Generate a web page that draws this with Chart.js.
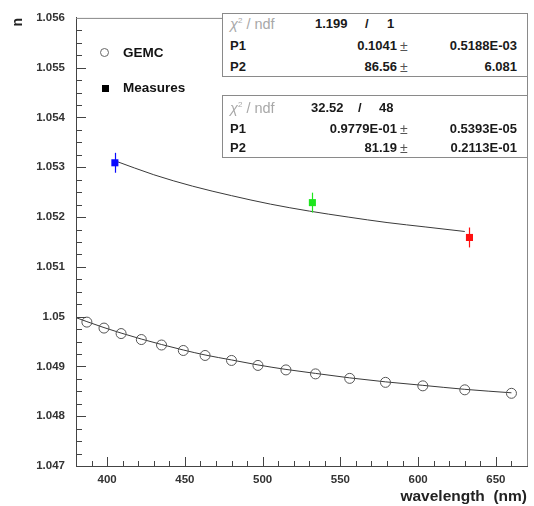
<!DOCTYPE html>
<html>
<head>
<meta charset="utf-8">
<script src="https://cdn.jsdelivr.net/npm/chart.js@4/dist/chart.umd.min.js"></script>
<style>
  html, body { margin:0; padding:0; background:#fff; }
  #wrap { position:relative; width:534px; height:506px; overflow:hidden; }
  canvas { position:absolute; left:0; top:0; }
  .box { position:absolute; box-sizing:border-box; border:1px solid #8a8a8a; background:#fff; }
  .t { position:absolute; font-family:"Liberation Sans", Arial, sans-serif; font-size:13px; font-weight:bold; color:#1a1a1a; line-height:16px; white-space:pre; }
  .chi { font-weight:normal; color:#a8a8a8; font-size:14.5px; }
  .pm { font-weight:normal; color:#555; font-size:14px; }
  .leg { position:absolute; font-family:"Liberation Sans", Arial, sans-serif; font-size:13.5px; font-weight:bold; color:#111; line-height:16px; }
</style>
</head>
<body>
<div id="wrap">
  <canvas id="c" width="534" height="506"></canvas>

  <div style="position:absolute;left:100px;top:48px;width:9px;height:9px;border:1px solid #666;border-radius:50%;box-sizing:border-box;"></div>
  <div class="leg" style="left:123px;top:45px;">GEMC</div>
  <div style="position:absolute;left:102px;top:85px;width:7px;height:7px;background:#000;"></div>
  <div class="leg" style="left:123px;top:80px;">Measures</div>

  <div class="box" style="left:222px;top:13px;width:306px;height:64px;">
    <span class="t chi" style="left:7px;top:2px;"><i>χ</i><sup style="font-size:8px;line-height:0">2</sup> / ndf</span>
    <span class="t" style="left:92px;top:2px;">1.199</span>
    <span class="t" style="left:142px;top:2px;">/</span>
    <span class="t" style="left:164px;top:2px;">1</span>
    <span class="t" style="left:7px;top:24px;">P1</span>
    <span class="t" style="right:130px;top:24px;">0.1041</span>
    <span class="t pm" style="left:177px;top:24px;">±</span>
    <span class="t" style="right:10px;top:24px;">0.5188E-03</span>
    <span class="t" style="left:7px;top:45px;">P2</span>
    <span class="t" style="right:130px;top:45px;">86.56</span>
    <span class="t pm" style="left:177px;top:45px;">±</span>
    <span class="t" style="right:10px;top:45px;">6.081</span>
  </div>

  <div class="box" style="left:222px;top:95px;width:306px;height:63px;">
    <span class="t chi" style="left:7px;top:4px;"><i>χ</i><sup style="font-size:8px;line-height:0">2</sup> / ndf</span>
    <span class="t" style="left:88px;top:4px;">32.52</span>
    <span class="t" style="left:135px;top:4px;">/</span>
    <span class="t" style="left:156px;top:4px;">48</span>
    <span class="t" style="left:7px;top:25px;">P1</span>
    <span class="t" style="right:130px;top:25px;">0.9779E-01</span>
    <span class="t pm" style="left:177px;top:25px;">±</span>
    <span class="t" style="right:10px;top:25px;">0.5393E-05</span>
    <span class="t" style="left:7px;top:44px;">P2</span>
    <span class="t" style="right:130px;top:44px;">81.19</span>
    <span class="t pm" style="left:177px;top:44px;">±</span>
    <span class="t" style="right:10px;top:44px;">0.2113E-01</span>
  </div>
</div>

<script>
// ---- data ----
const gemcWavelength = [387, 398, 409, 422, 435, 449, 463, 480, 497, 515, 534, 556, 579, 603, 630, 660];
const gemcIndex      = [1.04989, 1.04977, 1.04966, 1.04954, 1.04943, 1.04932, 1.04922, 1.04912,
                        1.04902, 1.04893, 1.04885, 1.04876, 1.04868, 1.04861, 1.04853, 1.04846];

const gemcFitWavelength = [380, 387, 398, 409, 422, 435, 449, 463, 480, 497, 515, 534, 556, 579, 603, 630, 660];
const gemcFitIndex      = [1.04998, 1.04990, 1.04978, 1.04967, 1.04955, 1.04944, 1.04933, 1.04923, 1.04913,
                           1.04903, 1.04894, 1.04886, 1.04877, 1.04869, 1.04862, 1.04854, 1.04847];

const measWavelength = [405, 532, 633];
const measIndex      = [1.05309, 1.05229, 1.05159];
const measError      = [0.0002, 0.0002, 0.0002];
const measColors     = ['#0a0aff', '#1ee61e', '#ff1010'];

const measFitWavelength = [405, 430, 455, 480, 505, 530, 555, 580, 605, 630];
const measFitIndex      = [1.05313, 1.05285, 1.05262, 1.05243, 1.05226, 1.05212, 1.05200, 1.05189, 1.05180, 1.05171];

const xTickValues = [400, 450, 500, 550, 600, 650];
const yTickValues = [1.047, 1.048, 1.049, 1.05, 1.051, 1.052, 1.053, 1.054, 1.055, 1.056];
const yTickLabels = ['1.047', '1.048', '1.049', '1.05', '1.051', '1.052', '1.053', '1.054', '1.055', '1.056'];

const xMinorStep = 10;
const yMinorStep = 0.00025;

// ---- build point lists ----
const pts = (xs, ys) => xs.map((x, i) => ({ x: x, y: ys[i] }));

const frameAndTicks = {
  id: 'frameAndTicks',
  afterDraw(chart) {
    const { ctx, chartArea: a, scales: { x, y } } = chart;
    ctx.save();
    ctx.strokeStyle = '#888';
    ctx.lineWidth = 1;
    ctx.beginPath();
    ctx.moveTo(a.left, a.top + 0.5); ctx.lineTo(a.right + 0.5, a.top + 0.5);
    ctx.lineTo(a.right + 0.5, a.bottom);
    ctx.stroke();
    ctx.strokeStyle = '#444';
    ctx.beginPath();
    for (let v = x.min; v <= x.max + 1e-9; v += xMinorStep) {
      const vv = Math.round(v);
      if (vv === x.min || vv === x.max) continue;
      const px = Math.round(x.getPixelForValue(vv)) + 0.5;
      const major = xTickValues.includes(vv);
      ctx.moveTo(px, a.bottom);
      ctx.lineTo(px, a.bottom - (major ? 9 : 5));
    }
    const n = Math.round((y.max - y.min) / yMinorStep);
    for (let i = 1; i < n; i++) {
      const v = y.min + i * yMinorStep;
      const py = Math.round(y.getPixelForValue(v)) + 0.5;
      const major = i % 4 === 0;
      ctx.moveTo(a.left, py);
      ctx.lineTo(a.left + (major ? 10 : 6), py);
    }
    ctx.stroke();
    ctx.restore();
  },
  afterDatasetsDraw(chart) {
    const { ctx, scales: { x, y } } = chart;
    ctx.save();
    ctx.lineWidth = 1.2;
    measWavelength.forEach((w, i) => {
      const px = Math.round(x.getPixelForValue(w)) + 0.5;
      ctx.strokeStyle = measColors[i];
      ctx.beginPath();
      ctx.moveTo(px, y.getPixelForValue(measIndex[i] - measError[i]));
      ctx.lineTo(px, y.getPixelForValue(measIndex[i] + measError[i]));
      ctx.stroke();
    });
    ctx.restore();
  }
};

const tickFont = { family: 'Liberation Sans', weight: 'bold', size: 11.5 };

new Chart(document.getElementById('c'), {
  type: 'scatter',
  data: {
    datasets: [
      {
        label: 'Measures',
        data: pts(measWavelength, measIndex),
        pointStyle: 'rect',
        pointRadius: 5,
        pointBackgroundColor: measColors,
        pointBorderColor: measColors,
        pointBorderWidth: 0,
        showLine: false,
        order: 0
      },
      {
        label: 'GEMC',
        data: pts(gemcWavelength, gemcIndex),
        pointStyle: 'circle',
        pointRadius: 5,
        pointBackgroundColor: 'rgba(0,0,0,0)',
        pointBorderColor: '#555',
        pointBorderWidth: 1,
        showLine: false,
        order: 1
      },
      {
        label: 'Measures fit',
        data: pts(measFitWavelength, measFitIndex),
        showLine: true,
        pointRadius: 0,
        borderColor: '#3a3a3a',
        borderWidth: 1,
        cubicInterpolationMode: 'monotone',
        order: 2
      },
      {
        label: 'GEMC fit',
        data: pts(gemcFitWavelength, gemcFitIndex),
        showLine: true,
        pointRadius: 0,
        borderColor: '#3a3a3a',
        borderWidth: 1,
        cubicInterpolationMode: 'monotone',
        order: 2
      }
    ]
  },
  options: {
    responsive: false,
    animation: false,
    devicePixelRatio: 1,
    layout: { padding: { left: 0, top: 13, right: 7, bottom: 0 } },
    plugins: { legend: { display: false }, tooltip: { enabled: false } },
    scales: {
      x: {
        type: 'linear',
        min: 380,
        max: 670,
        afterBuildTicks: s => { s.ticks = xTickValues.map(v => ({ value: v })); },
        afterFit: s => { s.height = 40; },
        ticks: { font: tickFont, color: '#333', padding: 7, maxRotation: 0, callback: v => String(v) },
        grid: { display: false, drawTicks: false },
        border: { display: true, color: '#444', width: 1 },
        title: {
          display: true, text: 'wavelength  (nm)', align: 'end', color: '#222',
          font: { family: 'Liberation Sans', weight: 'bold', size: 15.5 },
          padding: { top: 0, bottom: 0 }
        }
      },
      y: {
        type: 'linear',
        min: 1.047,
        max: 1.056,
        afterBuildTicks: s => { s.ticks = yTickValues.map(v => ({ value: v })); },
        afterFit: s => { s.width = 76; },
        ticks: {
          font: tickFont, color: '#333', padding: 11,
          callback: (v, i) => yTickLabels[i]
        },
        grid: { display: false, drawTicks: false },
        border: { display: true, color: '#444', width: 1 },
        title: {
          display: true, text: 'n', align: 'end', color: '#222',
          font: { family: 'Liberation Sans', weight: 'bold', size: 14 },
          padding: { top: 10, bottom: 0 }
        }
      }
    }
  },
  plugins: [frameAndTicks]
});
</script>
</body>
</html>
